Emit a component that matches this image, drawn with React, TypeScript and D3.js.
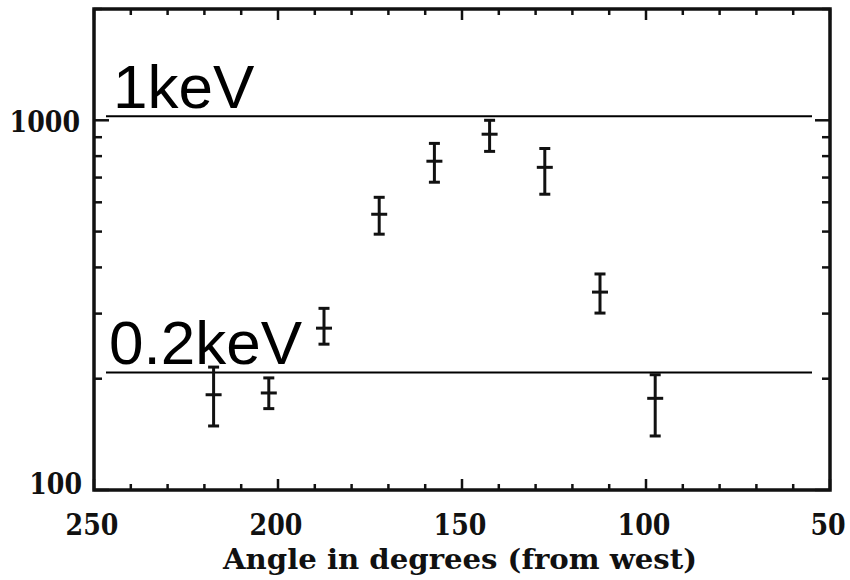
import React, { useEffect, useRef } from "react";
import * as d3 from "d3";

// angle bins (degrees from west) and measured values with error bars
const angles = [217.5, 202.5, 187.5, 172.5, 157.5, 142.5, 127.5, 112.5, 97.5];
const values = [181, 183, 274, 557, 775, 917, 746, 343, 177];
const lows = [149, 166, 248, 492, 680, 824, 631, 301, 140];
const highs = [215, 201, 310, 619, 866, 1000, 839, 384, 205];

const xTicks = [250, 200, 150, 100, 50];
const yTicks = [100, 1000];
const refLabels = ["1keV", "0.2keV"];
const refValues = [1025, 208];

const W = 850,
  H = 580;

export default function App() {
  const ref = useRef<SVGSVGElement>(null);

  useEffect(() => {
    const svg = d3.select(ref.current);
    svg.selectAll("*").remove();

    const left = 94,
      right = 830,
      top = 9,
      bottom = 490;

    const x = d3.scaleLinear().domain([250, 50]).range([left, right]);
    const y = d3.scaleLog().domain([100, 2000]).range([bottom, top]);

    const g = svg.append("g");
    const tickFont = "'DejaVu Serif Condensed', 'DejaVu Serif', serif";

    // x ticks, bottom and top
    const xMinor = d3.range(250, 49, -10);
    xMinor.forEach((v) => {
      const major = v % 50 === 0;
      const len = major ? 11 : 6;
      g.append("line")
        .attr("x1", x(v)).attr("x2", x(v))
        .attr("y1", bottom).attr("y2", bottom - len)
        .attr("stroke", "#111").attr("stroke-width", 2.5);
      g.append("line")
        .attr("x1", x(v)).attr("x2", x(v))
        .attr("y1", top).attr("y2", top + len)
        .attr("stroke", "#111").attr("stroke-width", 2.5);
    });

    // y ticks, left and right
    const yMinor = [100, 200, 300, 400, 500, 600, 700, 800, 900, 1000, 2000];
    yMinor.forEach((v) => {
      const major = v === 100 || v === 1000;
      const len = major ? 15 : 8;
      g.append("line")
        .attr("x1", left).attr("x2", left + len)
        .attr("y1", y(v)).attr("y2", y(v))
        .attr("stroke", "#111").attr("stroke-width", 2.5);
      g.append("line")
        .attr("x1", right).attr("x2", right - len)
        .attr("y1", y(v)).attr("y2", y(v))
        .attr("stroke", "#111").attr("stroke-width", 2.5);
    });

    // frame
    g.append("rect")
      .attr("x", left).attr("y", top)
      .attr("width", right - left).attr("height", bottom - top)
      .attr("fill", "none").attr("stroke", "#111").attr("stroke-width", 3.5);

    // tick labels
    g.selectAll(".xl")
      .data(xTicks)
      .enter()
      .append("text")
      .attr("x", (d) => x(d) - 2)
      .attr("y", 535)
      .attr("text-anchor", "middle")
      .attr("font-family", tickFont)
      .attr("font-weight", "bold")
      .attr("font-size", 30)
      .attr("textLength", (d) => String(d).length * 17.6)
      .attr("lengthAdjust", "spacingAndGlyphs")
      .attr("fill", "#111")
      .text((d) => d);

    g.selectAll(".yl")
      .data(yTicks)
      .enter()
      .append("text")
      .attr("x", (d) => (d === 100 ? 82 : 80))
      .attr("y", (d) => y(d) + (d === 100 ? 4 : 12))
      .attr("text-anchor", "end")
      .attr("font-family", tickFont)
      .attr("font-weight", "bold")
      .attr("font-size", 30)
      .attr("textLength", (d) => String(d).length * 17.6)
      .attr("lengthAdjust", "spacingAndGlyphs")
      .attr("fill", "#111")
      .text((d) => d);

    g.append("text")
      .attr("x", 460)
      .attr("y", 569)
      .attr("text-anchor", "middle")
      .attr("font-family", tickFont)
      .attr("font-weight", "bold")
      .attr("font-size", 28)
      .attr("textLength", 474)
      .attr("lengthAdjust", "spacingAndGlyphs")
      .attr("fill", "#111")
      .text("Angle in degrees (from west)");

    // reference energy lines
    refValues.forEach((v, i) => {
      g.append("line")
        .attr("x1", 106).attr("x2", 812)
        .attr("y1", y(v)).attr("y2", y(v))
        .attr("stroke", "#000").attr("stroke-width", 2);
      g.append("text")
        .attr("x", i === 0 ? 113 : 109)
        .attr("y", y(v) - 8)
        .attr("font-family", "'Liberation Sans', Arial, sans-serif")
        .attr("font-size", 62)
        .attr("fill", "#000")
        .text(refLabels[i]);
    });

    // error bars
    const pts = g.selectAll(".pt")
      .data(angles.map((a, i) => ({ a, v: values[i], lo: lows[i], hi: highs[i] })))
      .enter()
      .append("g")
      .attr("stroke", "#111")
      .attr("stroke-width", 3);

    pts.append("line")
      .attr("x1", (d) => x(d.a)).attr("x2", (d) => x(d.a))
      .attr("y1", (d) => y(d.lo)).attr("y2", (d) => y(d.hi));
    pts.append("line")
      .attr("x1", (d) => x(d.a) - 5.5).attr("x2", (d) => x(d.a) + 5.5)
      .attr("y1", (d) => y(d.lo)).attr("y2", (d) => y(d.lo));
    pts.append("line")
      .attr("x1", (d) => x(d.a) - 5.5).attr("x2", (d) => x(d.a) + 5.5)
      .attr("y1", (d) => y(d.hi)).attr("y2", (d) => y(d.hi));
    pts.append("line")
      .attr("x1", (d) => x(d.a) - 8).attr("x2", (d) => x(d.a) + 8)
      .attr("y1", (d) => y(d.v)).attr("y2", (d) => y(d.v));
  }, []);

  return (
    <svg
      ref={ref}
      width={W}
      height={H}
      style={{ position: "absolute", left: 0, top: 0, background: "#fff" }}
    />
  );
}
